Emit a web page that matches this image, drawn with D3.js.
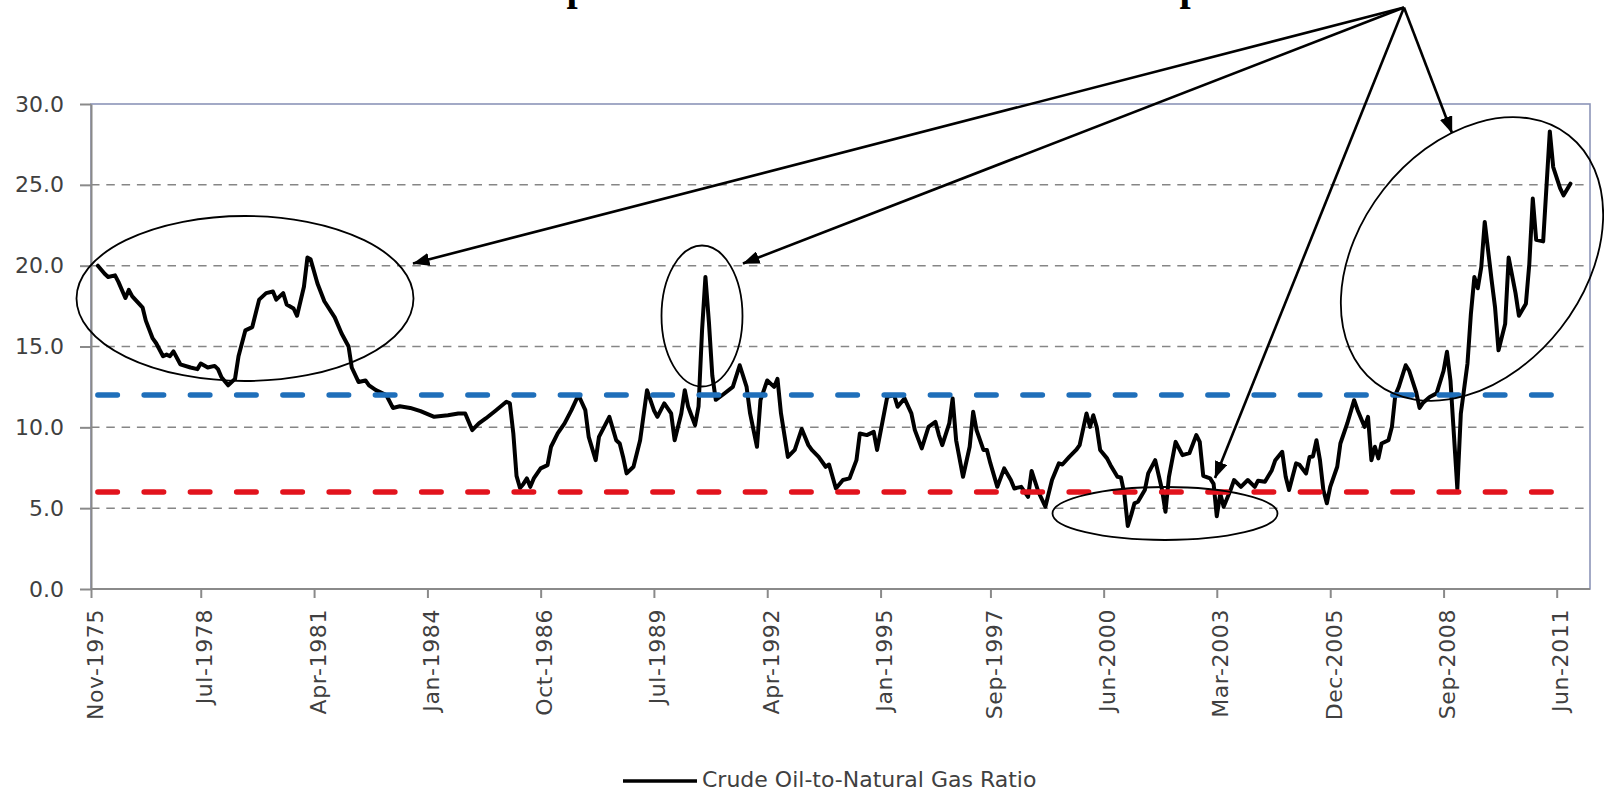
<!DOCTYPE html>
<html>
<head>
<meta charset="utf-8">
<script src="https://cdn.jsdelivr.net/npm/d3@7"></script>
<style>
  html, body { margin: 0; padding: 0; background: #ffffff; }
  svg { display: block; }
</style>
</head>
<body>
<svg id="chart" width="1604" height="792"></svg>
<script>
// ---- Data -----------------------------------------------------------------
// Monthly crude oil / natural gas price ratio (turning points of the series)
const ratioMonths = [
  "1976-01","1976-03","1976-04","1976-06","1976-07","1976-09","1976-10","1976-11",
  "1977-02","1977-03","1977-05","1977-06","1977-08","1977-09","1977-10","1977-11",
  "1978-01","1978-04","1978-06","1978-07","1978-09","1978-11","1978-12",
  "1979-01","1979-03","1979-05","1979-06","1979-08","1979-10","1979-12",
  "1980-02","1980-04","1980-05","1980-07","1980-08","1980-10","1980-11",
  "1981-01","1981-02","1981-03","1981-05","1981-07","1981-10","1981-12",
  "1982-02","1982-03","1982-05","1982-07","1982-08","1982-10",
  "1983-01","1983-03","1983-05","1983-08","1983-11",
  "1984-03","1984-07","1984-10","1984-12",
  "1985-02","1985-04","1985-06","1985-09","1985-12",
  "1986-01","1986-02","1986-03","1986-04","1986-05","1986-06","1986-07","1986-08","1986-10","1986-12",
  "1987-01","1987-03","1987-05","1987-07","1987-09","1987-11","1987-12",
  "1988-02","1988-03","1988-06","1988-08","1988-09","1988-10","1988-11",
  "1989-01","1989-03","1989-05","1989-07","1989-08","1989-10","1989-12",
  "1990-01","1990-03","1990-04","1990-05","1990-07","1990-08","1990-09","1990-10","1990-11","1990-12",
  "1991-01","1991-03","1991-06","1991-08","1991-10","1991-11",
  "1992-01","1992-02","1992-04","1992-06","1992-07","1992-08","1992-10","1992-12",
  "1993-02","1993-04","1993-05","1993-07","1993-09","1993-10","1993-12",
  "1994-02","1994-04","1994-06","1994-07","1994-09","1994-11","1994-12",
  "1995-02","1995-03","1995-05","1995-06","1995-08","1995-10","1995-11",
  "1996-01","1996-03","1996-05","1996-06","1996-07","1996-09","1996-10","1996-11",
  "1997-01","1997-03","1997-04","1997-05","1997-07","1997-08","1997-09","1997-11",
  "1998-01","1998-03","1998-04","1998-06","1998-08","1998-09","1998-11",
  "1999-01","1999-03","1999-05","1999-06","1999-08","1999-10","1999-11",
  "2000-01","2000-02","2000-03","2000-04","2000-05","2000-07","2000-08","2000-10","2000-11","2000-12",
  "2001-01","2001-02","2001-03","2001-04","2001-06","2001-07","2001-09","2001-11","2001-12",
  "2002-01","2002-03","2002-05","2002-07","2002-09","2002-10","2002-11",
  "2003-01","2003-02","2003-03","2003-04","2003-05","2003-07","2003-08","2003-10","2003-12",
  "2004-02","2004-03","2004-05","2004-07","2004-08","2004-10","2004-11","2004-12",
  "2005-02","2005-03","2005-05","2005-06","2005-07","2005-08","2005-09","2005-10","2005-11","2005-12",
  "2006-02","2006-03","2006-05","2006-07","2006-08","2006-10","2006-11","2006-12",
  "2007-01","2007-02","2007-03","2007-05","2007-06","2007-07","2007-08","2007-10","2007-11",
  "2008-01","2008-02","2008-03","2008-05","2008-07","2008-09","2008-10","2008-11",
  "2009-01","2009-02","2009-04","2009-05","2009-06","2009-07","2009-08","2009-09","2009-11","2009-12",
  "2010-01","2010-03","2010-04","2010-06","2010-07","2010-09","2010-10","2010-11","2010-12",
  "2011-02","2011-04","2011-05","2011-07","2011-08","2011-10"
];
const ratioValues = [
  20.0, 19.5, 19.3, 19.4, 19.0, 18.0, 18.5, 18.1,
  17.4, 16.6, 15.5, 15.2, 14.4, 14.5, 14.4, 14.7,
  13.9, 13.7, 13.6, 13.95, 13.7, 13.8, 13.6,
  13.1, 12.6, 13.0, 14.4, 16.0, 16.2, 17.9,
  18.3, 18.4, 17.9, 18.3, 17.6, 17.35, 16.9,
  18.7, 20.5, 20.4, 18.9, 17.8, 16.8, 15.8,
  15.0, 13.7, 12.8, 12.9, 12.6, 12.3,
  12.0, 11.2, 11.3, 11.2, 11.0,
  10.65, 10.75, 10.86, 10.86,
  9.83, 10.24, 10.55, 11.06, 11.58,
  11.48, 9.6, 7.0, 6.25, 6.5, 6.84, 6.32, 6.84, 7.46, 7.66,
  8.8, 9.62, 10.24, 11.06, 12.0, 11.06, 9.41,
  7.97, 9.41, 10.65, 9.2, 9.0, 8.17, 7.15,
  7.56, 9.2, 12.3, 11.06, 10.65, 11.48, 10.86,
  9.2, 10.86, 12.3, 11.27, 10.14, 11.3, 16.0, 19.3, 16.5, 13.2,
  11.7, 12.0, 12.5, 13.84, 12.5, 10.86,
  8.8, 11.68, 12.9, 12.5, 13.0, 10.86, 8.17, 8.6,
  9.9, 8.9, 8.6, 8.17, 7.56, 7.7, 6.22,
  6.74, 6.84, 7.97, 9.62, 9.52, 9.72, 8.6,
  10.86, 11.88, 12.0, 11.27, 11.79, 10.86, 9.83,
  8.7, 10.03, 10.34, 9.52, 8.9, 10.24, 11.79, 9.2,
  6.94, 8.8, 10.96, 9.83, 8.6, 8.6, 7.77, 6.32,
  7.46, 6.74, 6.22, 6.32, 5.7, 7.3, 6.0,
  5.09, 6.74, 7.77, 7.7, 8.17, 8.6, 8.9,
  10.86, 10.03, 10.75, 10.0, 8.6, 8.08, 7.66, 6.94, 6.9, 5.91,
  3.9, 4.6, 5.3, 5.4, 6.12, 7.15, 7.97, 6.12, 4.78,
  6.94, 9.1, 8.28, 8.4, 9.52, 9.1, 7.0,
  6.84, 6.5, 4.5, 5.91, 5.09, 6.12, 6.74, 6.32, 6.74,
  6.32, 6.7, 6.63, 7.35, 7.97, 8.49, 6.94, 6.12,
  7.77, 7.7, 7.15, 8.17, 8.2, 9.2, 7.97, 6.12, 5.3, 6.32,
  7.56, 9.0, 10.24, 11.68, 11.06, 10.03, 10.65, 7.97,
  8.8, 8.08, 9.0, 9.2, 10.03, 12.0, 12.5, 13.84, 13.5,
  12.2, 11.2, 11.5, 11.88, 12.1, 13.5, 14.67, 12.9,
  6.2, 10.86, 13.95, 17.0, 19.3, 18.6, 19.9, 22.7, 19.1, 17.45,
  14.77, 16.4, 20.5, 18.3, 16.9, 17.65, 20.1, 24.15, 21.6,
  21.5, 28.3, 26.1, 24.8, 24.35, 25.07
];

// Reference bands drawn as constant series
const upperBandValue = 12;
const lowerBandValue = 6;

// Axis ticks
const yTickValues = [0, 5, 10, 15, 20, 25, 30];
const xTickLabels = [
  "Nov-1975","Jul-1978","Apr-1981","Jan-1984","Oct-1986","Jul-1989","Apr-1992",
  "Jan-1995","Sep-1997","Jun-2000","Mar-2003","Dec-2005","Sep-2008","Jun-2011"
];
const seriesName = "Crude Oil-to-Natural Gas Ratio";

// ---- Layout ---------------------------------------------------------------
const plot = { left: 91, right: 1590, top: 104, bottom: 589 };
const lastTickX = 1556.7;
const textColor = "#404040";
const axisFont = "'DejaVu Sans', Verdana, sans-serif";

const parseMonth = d3.timeParse("%Y-%m");
const parseTick = d3.timeParse("%b-%Y");

const series = ratioMonths.map((m, i) => ({ date: parseMonth(m), value: ratioValues[i] }));
const tickDates = xTickLabels.map(parseTick);

const x = d3.scaleTime()
  .domain([tickDates[0], tickDates[tickDates.length - 1]])
  .range([plot.left, lastTickX]);
const y = d3.scaleLinear().domain([0, 30]).range([plot.bottom, plot.top]);

const svg = d3.select("#chart");

// ---- Gridlines ------------------------------------------------------------
svg.append("g")
  .selectAll("line")
  .data(yTickValues.filter(v => v > 0 && v < 30))
  .join("line")
  .attr("x1", plot.left).attr("x2", plot.right)
  .attr("y1", d => y(d)).attr("y2", d => y(d))
  .attr("stroke", "#868686")
  .attr("stroke-width", 1.5)
  .attr("stroke-dasharray", "8.5,6.8");

// Plot frame
svg.append("rect")
  .attr("x", plot.left).attr("y", plot.top)
  .attr("width", plot.right - plot.left).attr("height", plot.bottom - plot.top)
  .attr("fill", "none")
  .attr("stroke", "#8c95b8")
  .attr("stroke-width", 1.6);

// ---- Axes -----------------------------------------------------------------
const yAxis = d3.axisLeft(y)
  .tickValues(yTickValues)
  .tickFormat(d3.format(".1f"))
  .tickSizeInner(11).tickSizeOuter(0).tickPadding(16);

const gy = svg.append("g")
  .attr("transform", `translate(${plot.left},0)`)
  .call(yAxis);
gy.select(".domain").attr("stroke", "#8a8a8a").attr("stroke-width", 2);
gy.selectAll(".tick line").attr("stroke", "#8a8a8a").attr("stroke-width", 2);
gy.selectAll(".tick text")
  .attr("font-family", axisFont)
  .attr("font-size", 22)
  .attr("fill", textColor);

const xAxis = d3.axisBottom(x)
  .tickValues(tickDates)
  .tickFormat((d, i) => xTickLabels[i])
  .tickSizeInner(9).tickSizeOuter(0);

const gx = svg.append("g")
  .attr("transform", `translate(0,${plot.bottom})`)
  .call(xAxis);
gx.select(".domain")
  .attr("d", `M${plot.left},0H${plot.right}`)
  .attr("stroke", "#8a8a8a").attr("stroke-width", 2);
gx.selectAll(".tick line").attr("stroke", "#8a8a8a").attr("stroke-width", 2);
gx.selectAll(".tick text")
  .attr("font-family", axisFont)
  .attr("font-size", 22)
  .attr("fill", textColor)
  .attr("letter-spacing", 0.6)
  .attr("text-anchor", "end")
  .attr("transform", "translate(0,20) rotate(-90)")
  .attr("x", 0).attr("y", 0)
  .attr("dy", "0.5em");

// ---- Ratio series ---------------------------------------------------------
const line = d3.line()
  .x(d => x(d.date))
  .y(d => y(d.value))
  .curve(d3.curveLinear);

svg.append("path")
  .datum(series)
  .attr("fill", "none")
  .attr("stroke", "#000")
  .attr("stroke-width", 4)
  .attr("stroke-linejoin", "round")
  .attr("stroke-linecap", "round")
  .attr("d", line);

// ---- Band lines at 12 and 6 ------------------------------------------------
const firstDate = series[0].date;
const lastDate = series[series.length - 1].date;
const bands = [
  { value: upperBandValue, color: "#1f6fba" },
  { value: lowerBandValue, color: "#e2131d" }
];
svg.append("g")
  .selectAll("path")
  .data(bands)
  .join("path")
  .attr("d", b => line([{ date: firstDate, value: b.value }, { date: lastDate, value: b.value }]))
  .attr("fill", "none")
  .attr("stroke", b => b.color)
  .attr("stroke-width", 5.5)
  .attr("stroke-linecap", "round")
  .attr("stroke-dasharray", "19.5,26.75");

// ---- Call-outs: ellipses and arrows ----------------------------------------
const defs = svg.append("defs");
defs.append("marker")
  .attr("id", "arrowhead")
  .attr("markerUnits", "userSpaceOnUse")
  .attr("viewBox", "0 0 17 13")
  .attr("markerWidth", 17).attr("markerHeight", 13)
  .attr("refX", 16.5).attr("refY", 6.5)
  .attr("orient", "auto")
  .append("path")
  .attr("d", "M0,0 L17,6.5 L0,13 Z")
  .attr("fill", "#000");

const callouts = svg.append("g").attr("fill", "none").attr("stroke", "#000");

const ellipses = [
  { cx: 245, cy: 298.5, rx: 168.5, ry: 82.5, rot: 0 },
  { cx: 702, cy: 316, rx: 40.5, ry: 70.5, rot: 0 },
  { cx: 1165, cy: 513.5, rx: 112.5, ry: 26.5, rot: 0 },
  { cx: 1472, cy: 259, rx: 157, ry: 112.5, rot: -52 }
];
callouts.selectAll("ellipse")
  .data(ellipses)
  .join("ellipse")
  .attr("cx", 0).attr("cy", 0)
  .attr("rx", d => d.rx).attr("ry", d => d.ry)
  .attr("transform", d => `translate(${d.cx},${d.cy}) rotate(${d.rot})`)
  .attr("stroke-width", 1.8);

const apex = { x: 1404, y: 7.5 };
const arrowTips = [
  { x: 413, y: 263.5 },
  { x: 743, y: 263.5 },
  { x: 1215, y: 478 },
  { x: 1452, y: 133 }
];
callouts.selectAll("line")
  .data(arrowTips)
  .join("line")
  .attr("x1", apex.x).attr("y1", apex.y)
  .attr("x2", d => d.x).attr("y2", d => d.y)
  .attr("stroke-width", 2.6)
  .attr("marker-end", "url(#arrowhead)");

// Heading runs above the top edge; only the descenders remain in view
svg.append("g")
  .attr("font-family", "'Liberation Serif', 'Times New Roman', serif")
  .attr("font-weight", "bold")
  .attr("font-size", 40)
  .attr("fill", "#000")
  .selectAll("text")
  .data([566.5, 1179.5])
  .join("text")
  .attr("x", d => d).attr("y", -0.5)
  .text("p");

// ---- Legend ---------------------------------------------------------------
const legend = svg.append("g").attr("transform", "translate(623,781)");
legend.append("line")
  .attr("x1", 0).attr("x2", 74).attr("y1", 0).attr("y2", 0)
  .attr("stroke", "#000").attr("stroke-width", 3.6);
legend.append("text")
  .attr("x", 79).attr("y", 6)
  .attr("font-family", axisFont)
  .attr("font-size", 22)
  .attr("fill", textColor)
  .text(seriesName);
</script>
</body>
</html>
